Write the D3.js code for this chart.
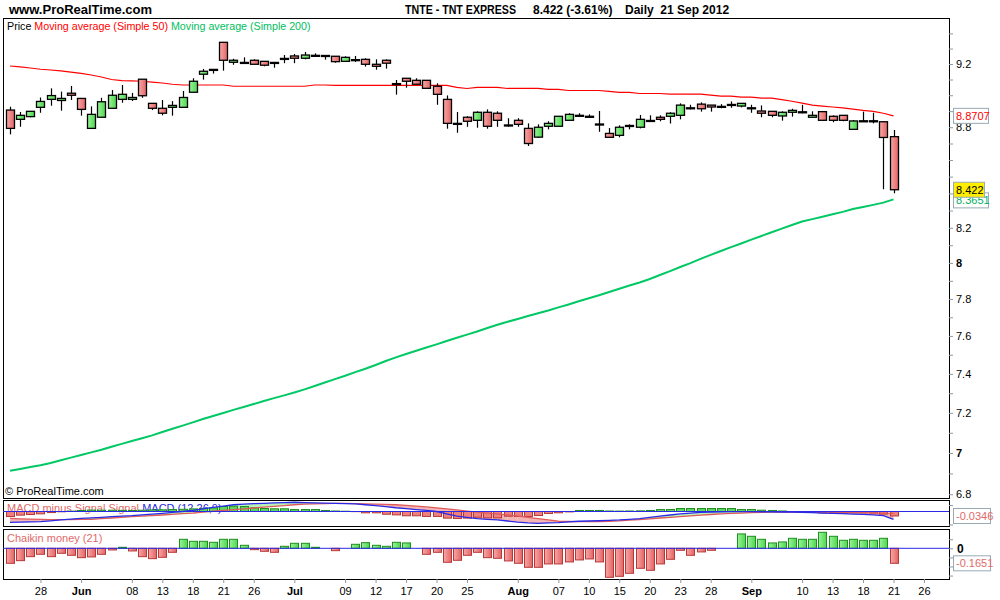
<!DOCTYPE html>
<html><head><meta charset="utf-8">
<script src="https://cdn.jsdelivr.net/npm/d3@7"></script>
<style>body{margin:0;background:#fff}svg{display:block;font-family:"Liberation Sans",Arial,sans-serif}</style>
</head><body><svg id="c" width="1000" height="600"></svg>
<script>
// ---------- DATA ----------
const startDate = "2012-05-23";
const openP = [8.907,8.849,8.866,8.924,8.974,8.967,9.013,8.980,8.793,8.862,8.918,8.974,8.974,9.102,8.949,8.918,8.924,8.924,9.019,9.134,9.165,9.341,9.211,9.210,9.224,9.217,9.210,9.236,9.252,9.237,9.256,9.255,9.250,9.217,9.228,9.230,9.198,9.224,9.074,9.108,9.095,9.095,9.057,8.974,8.824,8.862,8.843,8.893,8.887,8.814,8.843,8.793,8.739,8.806,8.806,8.843,8.874,8.868,8.820,8.762,8.750,8.811,8.800,8.842,8.862,8.868,8.874,8.921,8.944,8.938,8.930,8.942,8.932,8.921,8.901,8.899,8.870,8.893,8.896,8.862,8.897,8.868,8.874,8.787,8.840,8.840,8.834,8.742];
const highP = [8.928,8.895,8.901,8.986,9.044,9.023,9.059,8.980,8.930,8.984,9.033,9.065,9.015,9.102,8.949,8.970,8.963,9.027,9.108,9.168,9.166,9.341,9.234,9.243,9.230,9.217,9.210,9.258,9.265,9.278,9.269,9.255,9.250,9.250,9.252,9.237,9.230,9.230,9.097,9.108,9.108,9.095,9.076,8.999,8.895,8.868,8.899,8.911,8.899,8.856,8.856,8.824,8.818,8.837,8.868,8.887,8.887,8.880,8.901,8.795,8.812,8.818,8.876,8.874,8.874,8.893,8.949,8.940,8.955,8.938,8.944,8.961,8.949,8.940,8.936,8.899,8.899,8.915,8.940,8.899,8.897,8.874,8.874,8.845,8.897,8.890,8.834,8.783];
const lowP = [8.756,8.803,8.862,8.890,8.934,8.903,8.970,8.872,8.793,8.862,8.918,8.953,8.964,8.984,8.907,8.874,8.872,8.924,9.019,9.099,9.138,9.157,9.195,9.205,9.198,9.185,9.176,9.205,9.205,9.230,9.250,9.228,9.208,9.217,9.213,9.183,9.163,9.170,9.004,9.048,9.070,9.044,8.940,8.791,8.766,8.803,8.797,8.791,8.803,8.803,8.803,8.685,8.735,8.787,8.806,8.843,8.866,8.859,8.772,8.738,8.738,8.787,8.793,8.837,8.837,8.823,8.849,8.911,8.897,8.897,8.918,8.921,8.924,8.890,8.862,8.862,8.841,8.866,8.887,8.862,8.843,8.831,8.837,8.787,8.837,8.824,8.425,8.401];
const closeP = [8.793,8.874,8.899,8.961,8.998,8.980,9.000,8.911,8.880,8.959,9.000,9.006,8.986,8.997,8.918,8.887,8.936,8.986,9.089,9.153,9.165,9.224,9.224,9.210,9.198,9.192,9.210,9.236,9.237,9.258,9.256,9.255,9.215,9.243,9.228,9.198,9.185,9.205,9.074,9.089,9.070,9.044,9.006,8.824,8.824,8.837,8.893,8.806,8.843,8.814,8.818,8.700,8.800,8.824,8.868,8.880,8.874,8.868,8.820,8.738,8.800,8.811,8.849,8.842,8.849,8.887,8.938,8.921,8.915,8.926,8.930,8.942,8.949,8.921,8.887,8.874,8.893,8.905,8.896,8.874,8.843,8.843,8.843,8.839,8.840,8.840,8.737,8.422];
const ma50 = [9.187,9.181,9.174,9.166,9.161,9.155,9.148,9.139,9.129,9.116,9.100,9.093,9.091,9.089,9.084,9.078,9.070,9.065,9.065,9.065,9.065,9.065,9.057,9.057,9.057,9.057,9.057,9.057,9.057,9.057,9.065,9.065,9.063,9.063,9.063,9.063,9.063,9.063,9.063,9.063,9.063,9.063,9.063,9.063,9.050,9.043,9.050,9.050,9.050,9.043,9.043,9.043,9.043,9.037,9.037,9.030,9.030,9.030,9.030,9.024,9.018,9.018,9.011,9.011,9.011,9.007,9.007,9.007,9.007,9.001,8.994,8.994,8.988,8.988,8.982,8.982,8.972,8.962,8.950,8.938,8.932,8.926,8.920,8.913,8.905,8.899,8.887,8.8707];
const ma200 = [6.913,6.922,6.931,6.940,6.951,6.964,6.977,6.990,7.003,7.016,7.031,7.045,7.059,7.073,7.087,7.104,7.120,7.136,7.152,7.169,7.184,7.199,7.215,7.230,7.245,7.260,7.275,7.289,7.304,7.320,7.337,7.355,7.373,7.390,7.409,7.427,7.446,7.467,7.486,7.504,7.521,7.538,7.555,7.573,7.590,7.607,7.624,7.642,7.660,7.676,7.691,7.707,7.722,7.737,7.754,7.770,7.787,7.804,7.820,7.838,7.856,7.874,7.891,7.910,7.932,7.954,7.977,7.999,8.023,8.045,8.067,8.089,8.110,8.132,8.153,8.174,8.195,8.216,8.236,8.250,8.264,8.278,8.292,8.309,8.321,8.333,8.346,8.3651];
const macdLine = [-0.083,-0.082,-0.080,-0.078,-0.072,-0.065,-0.058,-0.053,-0.049,-0.045,-0.040,-0.036,-0.032,-0.026,-0.020,-0.014,-0.007,0.000,0.008,0.020,0.031,0.042,0.052,0.057,0.060,0.063,0.066,0.069,0.071,0.069,0.067,0.065,0.063,0.061,0.058,0.052,0.046,0.038,0.029,0.022,0.015,0.008,0.000,-0.018,-0.035,-0.045,-0.055,-0.060,-0.065,-0.073,-0.081,-0.087,-0.091,-0.088,-0.085,-0.080,-0.075,-0.073,-0.071,-0.068,-0.065,-0.060,-0.055,-0.045,-0.035,-0.027,-0.019,-0.012,-0.006,-0.004,-0.002,-0.001,-0.001,-0.001,-0.002,-0.003,-0.004,-0.005,-0.006,-0.009,-0.012,-0.015,-0.017,-0.020,-0.022,-0.026,-0.031,-0.060];
const signalLine = [-0.053,-0.056,-0.058,-0.060,-0.062,-0.063,-0.062,-0.061,-0.060,-0.055,-0.050,-0.045,-0.040,-0.036,-0.032,-0.027,-0.022,-0.017,-0.012,-0.005,0.002,0.008,0.015,0.021,0.027,0.034,0.040,0.046,0.052,0.056,0.059,0.061,0.063,0.062,0.060,0.058,0.057,0.055,0.052,0.047,0.042,0.035,0.028,0.020,0.012,0.003,-0.005,-0.012,-0.018,-0.026,-0.035,-0.045,-0.055,-0.065,-0.075,-0.077,-0.078,-0.078,-0.077,-0.075,-0.072,-0.067,-0.062,-0.056,-0.050,-0.045,-0.040,-0.034,-0.028,-0.023,-0.018,-0.015,-0.012,-0.009,-0.006,-0.005,-0.004,-0.004,-0.004,-0.004,-0.004,-0.005,-0.006,-0.007,-0.009,-0.010,-0.012,-0.015];
const macdHist = [-0.0385,-0.028,-0.023,-0.018,-0.008,-0.002,0.003,0.008,0.011,0.010,0.010,0.009,0.008,0.010,0.012,0.013,0.015,0.017,0.020,0.024,0.028,0.038,0.041,0.038,0.028,0.023,0.021,0.021,0.015,0.015,0.015,0.008,0.004,0.002,-0.001,-0.010,-0.010,-0.021,-0.026,-0.033,-0.033,-0.038,-0.038,-0.051,-0.054,-0.051,-0.044,-0.049,-0.049,-0.036,-0.038,-0.038,-0.031,-0.015,-0.010,-0.003,0.008,0.008,0.008,0.004,0.003,0.004,0.005,0.008,0.015,0.015,0.023,0.023,0.023,0.023,0.023,0.023,0.015,0.015,0.010,0.008,0.004,-0.002,-0.004,-0.006,-0.010,-0.010,-0.012,-0.010,-0.010,-0.012,-0.020,-0.0346];
const chaikin = [-0.165,-0.136,-0.092,-0.066,-0.092,-0.055,-0.077,-0.103,-0.095,-0.066,-0.018,0.011,-0.029,-0.092,-0.114,-0.099,-0.044,0.099,0.077,0.077,0.066,0.099,0.099,0.033,-0.015,-0.033,-0.044,0.022,0.055,0.055,0.011,0,-0.026,0,0.044,0.062,0.033,0.022,0.066,0.059,0,-0.066,-0.044,-0.154,-0.132,-0.077,-0.044,-0.103,-0.110,-0.139,-0.165,-0.209,-0.209,-0.172,-0.172,-0.150,-0.128,-0.117,-0.150,-0.319,-0.308,-0.275,-0.220,-0.242,-0.172,-0.121,-0.022,-0.077,-0.040,-0.022,0,0,0.158,0.132,0.099,0.059,0.070,0.110,0.099,0.099,0.176,0.132,0.088,0.099,0.088,0.088,0.110,-0.1651];
const priceLabels = [9.2,8.8,8.2,8,7.8,7.6,7.4,7.2,7,6.8];
const xTicks = [["2012-05-28","28"],["2012-06-01","Jun"],["2012-06-08","08"],["2012-06-13","13"],["2012-06-18","18"],["2012-06-21","21"],["2012-06-26","26"],["2012-07-02","Jul"],["2012-07-09","09"],["2012-07-12","12"],["2012-07-17","17"],["2012-07-20","20"],["2012-07-25","25"],["2012-08-01","Aug"],["2012-08-07","07"],["2012-08-10","10"],["2012-08-15","15"],["2012-08-20","20"],["2012-08-23","23"],["2012-08-28","28"],["2012-09-03","Sep"],["2012-09-10","10"],["2012-09-13","13"],["2012-09-18","18"],["2012-09-21","21"],["2012-09-26","26"]];

// ---------- LAYOUT ----------
const svg = d3.select("#c");
const L = 3, R = 949;
const P = {top:18, bot:498}, M = {top:500, bot:526}, C = {top:529, bot:579};
const fmt = d3.utcFormat("%Y-%m-%d");
const days = d3.utcDay.range(new Date(startDate+"T00:00:00Z"), new Date("2012-10-05T00:00:00Z")).filter(d => d.getUTCDay()%6 !== 0).map(fmt);
const x = d3.scaleLinear().domain([0, 87]).range([10, 893.5]);
const y = d3.scaleLog().domain([6.782, 9.502]).range([P.bot, P.top]);
const ym = d3.scaleLinear().domain([-0.1115, 0.0885]).range([M.bot, M.top]);
const yc = d3.scaleLinear().domain([-0.3377, 0.2123]).range([C.bot, C.top]);
const idx = d3.range(openP.length);

const defs = svg.append("defs");
function grad(id, c1, c2){
  const g = defs.append("linearGradient").attr("id", id).attr("x1","0").attr("x2","1").attr("y1","0").attr("y2","0");
  g.append("stop").attr("offset","0").attr("stop-color", c1);
  g.append("stop").attr("offset","1").attr("stop-color", c2);
}
grad("gRed", "#f7a8a8", "#e46464");
grad("gGreen", "#9af39a", "#4fd64f");
[P, M, C].forEach(p => {
  const cid = "clip" + p.top;
  defs.append("clipPath").attr("id", cid).append("rect").attr("x", L).attr("y", p.top).attr("width", R-L).attr("height", p.bot-p.top);
});

// header
svg.append("text").attr("x", 9).attr("y", 14).attr("font-size", 13).attr("font-weight", "bold").text("www.ProRealTime.com");
svg.append("text").attr("x", 405).attr("y", 14).attr("font-size", 12).attr("font-weight", "bold")
  .attr("textLength", 111).attr("lengthAdjust", "spacingAndGlyphs").text("TNTE - TNT EXPRESS");
svg.append("text").attr("x", 533).attr("y", 14).attr("font-size", 12).attr("font-weight", "bold").text("8.422 (-3.61%)");
svg.append("text").attr("x", 625).attr("y", 14).attr("font-size", 12).attr("font-weight", "bold").text("Daily  21 Sep 2012").style("white-space","pre");

// panel frames
[P, M, C].forEach(p => svg.append("rect").attr("x", L+0.5).attr("y", p.top+0.5).attr("width", R-L).attr("height", p.bot-p.top).attr("fill", "#fff").attr("stroke", "#000"));

// ---------- PRICE PANEL ----------
const leg = svg.append("text").attr("x", 7).attr("y", 30).attr("font-size", 10.7);
leg.append("tspan").attr("fill", "#000").text("Price ");
leg.append("tspan").attr("fill", "#ff0000").text("Moving average (Simple 50) ");
leg.append("tspan").attr("fill", "#00c060").text("Moving average (Simple 200)");
svg.append("text").attr("x", 5).attr("y", 495).attr("font-size", 11).text("\u00A9 ProRealTime.com");

const pg = svg.append("g").attr("clip-path", "url(#clip18)");
pg.append("path").datum(idx).attr("fill","none").attr("stroke","#ff0000").attr("stroke-width",1.2)
  .attr("d", d3.line().x(i => x(i)).y(i => y(ma50[i])));
pg.append("path").datum(idx).attr("fill","none").attr("stroke","#00c864").attr("stroke-width",2)
  .attr("d", d3.line().x(i => x(i)).y(i => y(ma200[i])));

const cg = pg.selectAll("g.c").data(idx).join("g");
cg.append("line").attr("x1", i => Math.round(x(i))+0.5).attr("x2", i => Math.round(x(i))+0.5)
  .attr("y1", i => y(highP[i])).attr("y2", i => y(lowP[i])).attr("stroke","#000").attr("stroke-width",1.2);
cg.append("rect")
  .attr("x", i => Math.round(x(i)) - 3.5)
  .attr("width", 8)
  .attr("y", i => y(Math.max(openP[i], closeP[i])))
  .attr("height", i => Math.max(1, y(Math.min(openP[i], closeP[i])) - y(Math.max(openP[i], closeP[i]))))
  .attr("fill", i => closeP[i] > openP[i] ? "url(#gGreen)" : closeP[i] < openP[i] ? "url(#gRed)" : "#000")
  .attr("stroke", "#000").attr("stroke-width", 1.3);

// price axis
const priceTickVals = d3.range(68, 95).map(v => v/10);
const ay = svg.append("g").attr("transform", `translate(${R},0)`)
  .call(d3.axisRight(y).tickValues(priceTickVals).tickSize(4).tickPadding(3)
    .tickFormat(v => priceLabels.some(p => Math.abs(p-v) < 1e-6) ? d3.format("")(+v.toFixed(1)) : ""));
ay.select(".domain").remove();
ay.selectAll("line").attr("stroke", "#8a9aa6");
ay.selectAll("text").attr("font-size", 11).attr("fill", "#000").attr("font-family", '"Liberation Sans",Arial,sans-serif')
  .attr("font-weight", v => (Math.abs(v-8) < 1e-6 || Math.abs(v-7) < 1e-6) ? "bold" : "normal");

function valueBox(v, yy, color, bg, w){
  const g = svg.append("g");
  g.append("rect").attr("x", 953.5).attr("y", yy-7.5).attr("width", w).attr("height", 15).attr("fill", bg).attr("stroke", "#98aab4");
  g.append("text").attr("x", 956).attr("y", yy+4).attr("font-size", 11).attr("fill", color).text(v);
}
valueBox("8.3651", y(ma200[87]) + 1, "#00b060", "#fff", 35);
valueBox("8.8707", y(ma50[87]), "#ff0000", "#fff", 35);
valueBox("8.422", y(closeP[87]), "#000", "#ffee00", 31);

// ---------- MACD PANEL ----------
const mt = svg.append("text").attr("x", 7).attr("y", 512).attr("font-size", 11);
mt.append("tspan").attr("fill", "#e06a6a").text("MACD minus Signal Signal ");
mt.append("tspan").attr("fill", "#2a2ae0").text("MACD (12,26,9)");
const mg = svg.append("g").attr("clip-path", "url(#clip500)");
d3.range(87).forEach(i => {
  const d = (macdLine[i]-signalLine[i]) + (macdLine[i+1]-signalLine[i+1]);
  mg.append("path").attr("fill", d < 0 ? "#f4b4b4" : "#b8f2b8")
    .attr("d", d3.line()([[x(i), ym(macdLine[i])], [x(i+1), ym(macdLine[i+1])], [x(i+1), ym(signalLine[i+1])], [x(i), ym(signalLine[i])]]) + "Z");
});
mg.selectAll("rect.h").data(idx).join("rect")
  .attr("x", i => Math.round(x(i)) - 3.5).attr("width", 8)
  .attr("y", i => Math.min(ym(0), ym(macdHist[i]))).attr("height", i => Math.abs(ym(macdHist[i]) - ym(0)))
  .attr("fill", i => macdHist[i] >= 0 ? "#5fd65f" : "#ef8080")
  .attr("stroke", i => macdHist[i] >= 0 ? "#1f8f1f" : "#b83838").attr("stroke-width", 1);
mg.append("path").datum(idx).attr("fill","none").attr("stroke","#e05a5a").attr("stroke-width",1.3)
  .attr("d", d3.line().x(i => x(i)).y(i => ym(signalLine[i])));
mg.append("path").datum(idx).attr("fill","none").attr("stroke","#2a2ae6").attr("stroke-width",1.3)
  .attr("d", d3.line().x(i => x(i)).y(i => ym(macdLine[i])));
mg.append("line").attr("x1", L).attr("x2", R).attr("y1", ym(0)).attr("y2", ym(0)).attr("stroke", "#2a2ae6");
const am = svg.append("g").attr("transform", `translate(${R},0)`).call(d3.axisRight(ym).tickValues([0.05, -0.1]).tickSize(4).tickFormat(""));
am.select(".domain").remove(); am.selectAll("line").attr("stroke", "#8a9aa6");
const mb = svg.append("g");
mb.append("rect").attr("x", 953.5).attr("y", ym(macdHist[87]) - 7.5).attr("width", 37).attr("height", 15).attr("fill", "#fff").attr("stroke", "#98aab4");
mb.append("text").attr("x", 956).attr("y", ym(macdHist[87]) + 4).attr("font-size", 11).attr("fill", "#e06a6a").text("-0.0346");

// ---------- CHAIKIN PANEL ----------
svg.append("text").attr("x", 7).attr("y", 542).attr("font-size", 11).attr("fill", "#e06a6a").text("Chaikin money (21)");
const chg = svg.append("g").attr("clip-path", "url(#clip529)");
chg.selectAll("rect").data(idx.filter(i => chaikin[i] !== 0)).join("rect")
  .attr("x", i => Math.round(x(i)) - 3.5).attr("width", 8)
  .attr("y", i => Math.min(yc(0), yc(chaikin[i]))).attr("height", i => Math.abs(yc(chaikin[i]) - yc(0)))
  .attr("fill", i => chaikin[i] >= 0 ? "url(#gGreen)" : "url(#gRed)")
  .attr("stroke", i => chaikin[i] >= 0 ? "#1f8f1f" : "#b83838").attr("stroke-width", 1);
chg.append("line").attr("x1", L).attr("x2", R).attr("y1", yc(0)).attr("y2", yc(0)).attr("stroke", "#2a2ae6");
const ac = svg.append("g").attr("transform", `translate(${R},0)`).call(d3.axisRight(yc).tickValues([0.1, 0, -0.1, -0.2, -0.3]).tickSize(4).tickPadding(4)
  .tickFormat(v => v === 0 ? "0" : ""));
ac.select(".domain").remove(); ac.selectAll("line").attr("stroke", "#8a9aa6");
ac.selectAll("text").attr("font-size", 12).attr("font-weight", "bold").attr("fill", "#000");
const cb = svg.append("g");
cb.append("rect").attr("x", 953.5).attr("y", yc(chaikin[87]) - 7.5).attr("width", 37).attr("height", 15).attr("fill", "#fff").attr("stroke", "#98aab4");
cb.append("text").attr("x", 956).attr("y", yc(chaikin[87]) + 4).attr("font-size", 11).attr("fill", "#e06a6a").text("-0.1651");

// ---------- X AXIS ----------
const tickIdx = xTicks.map(t => days.indexOf(t[0]));
const ax = svg.append("g").attr("transform", `translate(0,${C.bot})`)
  .call(d3.axisBottom(x).tickValues(tickIdx).tickSize(4).tickPadding(4).tickFormat((d, k) => xTicks[k][1]));
ax.select(".domain").remove();
ax.selectAll("line").attr("stroke", "#8a9aa6");
ax.selectAll("text").attr("font-size", 11).attr("fill", "#000").attr("font-family", '"Liberation Sans",Arial,sans-serif')
  .attr("font-weight", (d, k) => /^[A-Z]/.test(xTicks[k][1]) ? "bold" : "normal");
</script></body></html>
